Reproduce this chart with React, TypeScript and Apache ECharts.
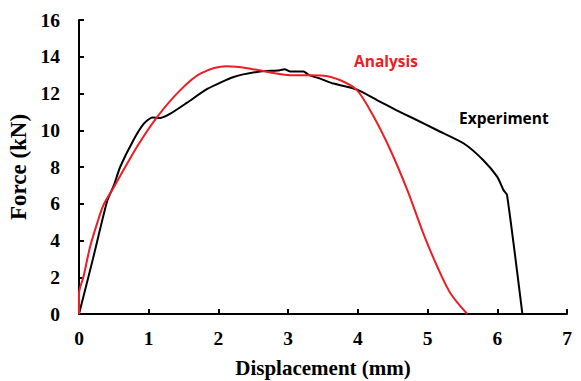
import React, { useEffect, useRef } from "react";
import * as echarts from "echarts";

const experimentX = [0, 0.2, 0.4, 0.5, 0.59, 0.78, 0.93, 1.05, 1.17, 1.31, 1.55, 1.84, 2.22, 2.6, 2.85, 2.95, 3.03, 3.22, 3.3, 3.46, 3.65, 3.99, 4.28, 4.55, 4.8, 5.14, 5.52, 5.8, 6.0, 6.09, 6.14, 6.36];
const experimentY = [0, 3.0, 6.1, 7.0, 8.0, 9.46, 10.36, 10.69, 10.67, 10.9, 11.5, 12.25, 12.9, 13.2, 13.25, 13.32, 13.2, 13.2, 13.0, 12.81, 12.54, 12.21, 11.63, 11.1, 10.64, 10.0, 9.28, 8.37, 7.46, 6.74, 6.47, 0];

const analysisX = [0, 0, 0.065, 0.16, 0.26, 0.35, 0.5, 0.83, 1.12, 1.45, 1.74, 2.12, 2.46, 2.79, 3.03, 3.3, 3.51, 3.75, 3.99, 4.23, 4.47, 4.71, 4.94, 5.14, 5.33, 5.57];
const analysisY = [0, 1.1, 2.04, 3.67, 4.93, 5.92, 6.9, 9.09, 10.72, 12.17, 13.08, 13.48, 13.35, 13.11, 12.99, 12.99, 12.97, 12.72, 12.17, 10.72, 8.9, 6.74, 4.38, 2.57, 1.12, 0];

const xTicks = [0, 1, 2, 3, 4, 5, 6, 7];
const yTicks = [0, 2, 4, 6, 8, 10, 12, 14, 16];

const serif = "'Liberation Serif', 'Times New Roman', serif";
const sans = "'Open Sans', 'Liberation Sans', sans-serif";

export default function App() {
  const ref = useRef<HTMLDivElement>(null);
  useEffect(() => {
    document.body.style.margin = "0";
    if (!ref.current) return;
    const chart = echarts.init(ref.current, undefined, { renderer: "svg" });
    const axisCommon = {
      axisLine: { show: true, lineStyle: { color: "#000", width: 2 } },
      axisTick: { show: true, inside: true, length: 5, lineStyle: { color: "#000", width: 2 } },
      splitLine: { show: false },
      nameLocation: "middle" as const,
      axisLabel: { fontFamily: serif, fontWeight: "bold" as const, fontSize: 19.5, color: "#000" },
    };
    chart.setOption({
      animation: false,
      backgroundColor: "#fff",
      grid: { left: 79, right: 14, top: 20, bottom: 67, containLabel: false, outerBoundsMode: "none" },
      xAxis: {
        ...axisCommon,
        type: "value",
        min: xTicks[0],
        max: xTicks[xTicks.length - 1],
        interval: 1,
        name: "Displacement (mm)",
        nameGap: 43,
        nameTextStyle: { fontFamily: serif, fontWeight: "bold", fontSize: 21, color: "#000" },
        axisLabel: { ...axisCommon.axisLabel, margin: 14 },
      },
      yAxis: {
        ...axisCommon,
        type: "value",
        min: yTicks[0],
        max: yTicks[yTicks.length - 1],
        interval: 2,
        name: "Force (kN)",
        nameGap: 45,
        nameTextStyle: { fontFamily: serif, fontWeight: "bold", fontSize: 23, color: "#000" },
        axisLabel: { ...axisCommon.axisLabel, margin: 19 },
      },
      series: [
        {
          name: "Experiment",
          type: "line",
          data: experimentX.map((x, i) => [x, experimentY[i]]),
          showSymbol: false,
          smooth: 0.2,
          lineStyle: { color: "#000", width: 2 },
          z: 2,
        },
        {
          name: "Analysis",
          type: "line",
          data: analysisX.map((x, i) => [x, analysisY[i]]),
          showSymbol: false,
          smooth: 0.3,
          lineStyle: { color: "#ee1c25", width: 2 },
          z: 3,
        },
      ],
      graphic: [
        {
          type: "text",
          left: 354,
          top: 53,
          style: { text: "Analysis", fill: "#ee1c25", font: `bold 15.5px ${sans}` },
        },
        {
          type: "text",
          left: 459,
          top: 110,
          style: { text: "Experiment", fill: "#000", font: `bold 15.5px ${sans}` },
        },
      ],
    });
    return () => chart.dispose();
  }, []);
  return <div ref={ref} style={{ width: 581, height: 381 }} />;
}
